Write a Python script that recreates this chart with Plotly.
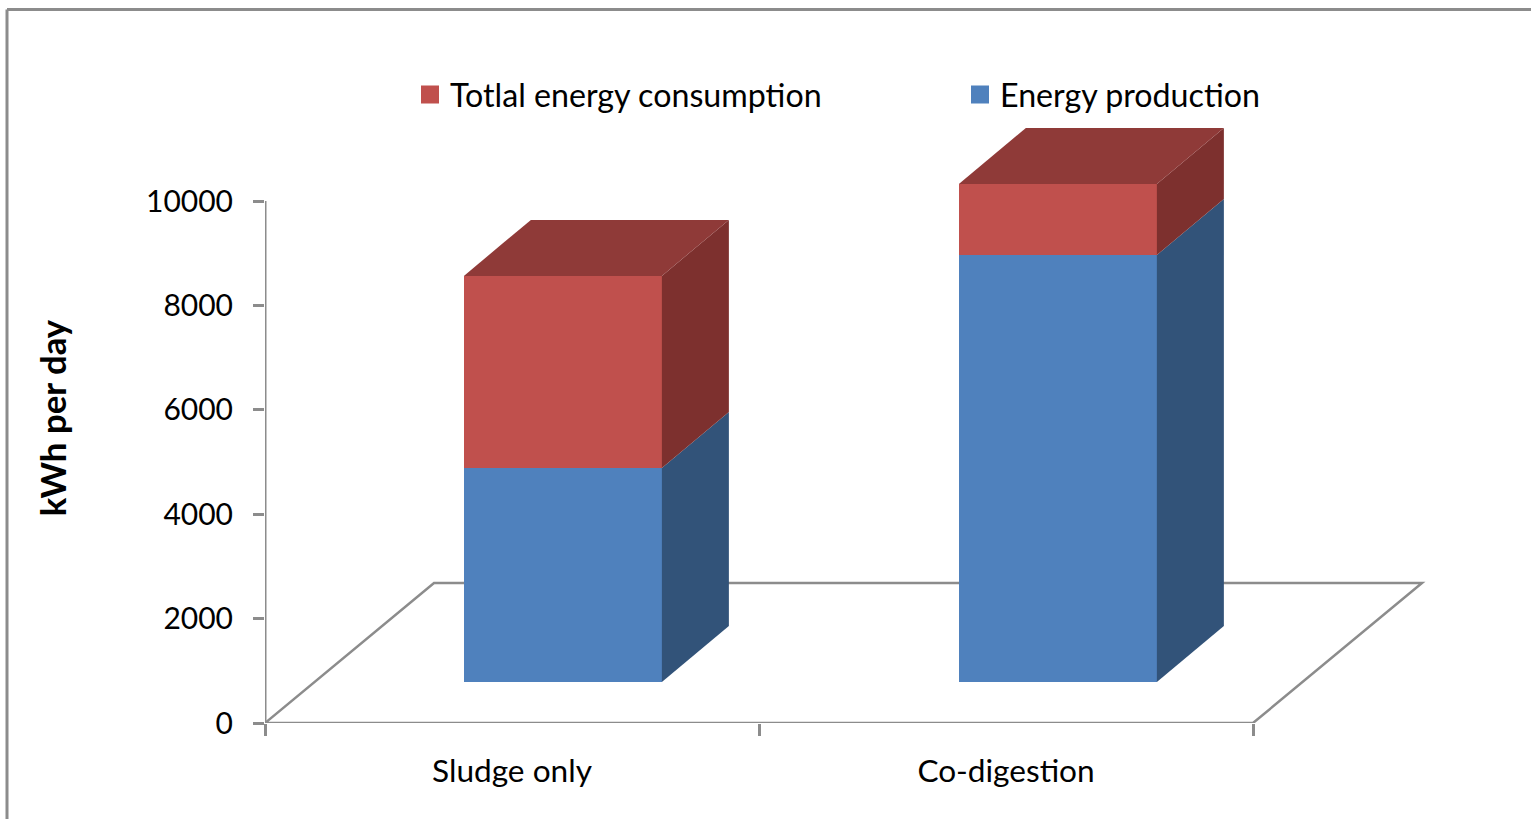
import plotly.graph_objects as go

categories = ["Sludge only", "Co-digestion"]
energy_production = [4100, 8180]
energy_consumption = [3680, 1360]
y_ticks = [0, 2000, 4000, 6000, 8000, 10000]
y_tick_labels = ["0", "2000", "4000", "6000", "8000", "10000"]

W, H = 1531, 819
L, R_AT, T, B_AT = 265, 1450, 113, 723
PX_X = 494.0
PX_Y = 52.2 / 1000
X_MAX = (R_AT - L) / PX_X
Y_MAX = (B_AT - T) / PX_Y

GREY = "#8C8C8C"
RED, RED_TOP, RED_SIDE = "#C0504D", "#8F3A38", "#7D302E"
BLUE, BLUE_SIDE = "#4F81BD", "#325379"
FONT = "Lato, Carlito, sans-serif"

# 3-D look: depth of the box and where the bars sit on the floor
DX = 67 / PX_X
DY = 56 / PX_Y
BASE = 41 / PX_Y
BAR_W = 198 / PX_X
CENTERS = [0.603, 1.605]
FLOOR_DX = 169 / PX_X
FLOOR_DY = 140 / PX_Y


def px(x):
    return (x - L) / (R_AT - L)


def py(y):
    return (B_AT - y) / (B_AT - T)


def poly(xs, ys, color):
    return go.Scatter(x=xs, y=ys, mode="lines", fill="toself", fillcolor=color,
                      line=dict(width=0, color=color), showlegend=False, hoverinfo="skip")


fig = go.Figure()

# front faces
fig.add_trace(go.Bar(x=CENTERS, y=energy_production, base=[BASE, BASE], width=BAR_W,
                     marker=dict(color=BLUE, line=dict(width=0)), showlegend=False,
                     name="Energy production"))
fig.add_trace(go.Bar(x=CENTERS, y=energy_consumption,
                     base=[BASE + p for p in energy_production], width=BAR_W,
                     marker=dict(color=RED, line=dict(width=0)), showlegend=False,
                     name="Totlal energy consumption"))

# side and top faces
for c, p, q in zip(CENTERS, energy_production, energy_consumption):
    xr = c + BAR_W / 2
    xl = c - BAR_W / 2
    y1 = BASE + p
    y2 = y1 + q
    fig.add_trace(poly([xr, xr + DX, xr + DX, xr, xr],
                       [BASE, BASE + DY, y1 + DY, y1, BASE], BLUE_SIDE))
    fig.add_trace(poly([xr, xr + DX, xr + DX, xr, xr],
                       [y1, y1 + DY, y2 + DY, y2, y1], RED_SIDE))
    fig.add_trace(poly([xl, xr, xr + DX, xl + DX, xl],
                       [y2, y2, y2 + DY, y2 + DY, y2], RED_TOP))

# legend entries
for name, color in [("Totlal energy consumption", RED), ("Energy production", BLUE)]:
    fig.add_trace(go.Scatter(x=[None], y=[None], mode="markers", name=name,
                             marker=dict(symbol="square", size=16, color=color,
                                         line=dict(width=2, color=color))))

n = len(categories)
shapes = [
    dict(type="path", layer="below", xref="x", yref="y",
         path=f"M 0 0 L {FLOOR_DX} {FLOOR_DY} L {n + FLOOR_DX} {FLOOR_DY} L {n} 0 Z",
         line=dict(color=GREY, width=2.5)),
    dict(type="line", layer="below", xref="x", yref="y", x0=0, x1=0, y0=0, y1=y_ticks[-1],
         line=dict(color=GREY, width=3)),
    dict(type="line", layer="above", xref="paper", yref="paper",
         x0=px(7), x1=px(W), y0=py(9.5), y1=py(9.5), line=dict(color=GREY, width=3)),
    dict(type="line", layer="above", xref="paper", yref="paper",
         x0=px(7), x1=px(7), y0=py(9.5), y1=py(H), line=dict(color=GREY, width=3)),
]

fig.update_layout(
    width=W, height=H,
    margin=dict(l=L, r=W - R_AT, t=T, b=H - B_AT, autoexpand=False),
    paper_bgcolor="white", plot_bgcolor="white",
    font=dict(family=FONT, color="black", size=32),
    barmode="overlay", bargap=0,
    shapes=shapes,
    showlegend=True,
    legend=dict(orientation="h", x=px(410), y=py(67), xanchor="left", yanchor="top",
                entrywidth=505, entrywidthmode="pixels", traceorder="normal",
                font=dict(family=FONT, size=32.2), bgcolor="rgba(0,0,0,0)"),
    xaxis=dict(range=[0, X_MAX], tickmode="array", tickvals=[0.5, 1.5], ticktext=categories,
               ticks="", showgrid=False, zeroline=False, showline=False, ticklabelstandoff=26,
               tickfont=dict(family=FONT, size=31.6),
               minor=dict(tickmode="array", tickvals=list(range(n + 1)), ticks="outside",
                          ticklen=12, tickwidth=2.5, tickcolor=GREY, showgrid=False)),
    yaxis=dict(range=[0, Y_MAX], tickmode="array", tickvals=y_ticks, ticktext=y_tick_labels,
               ticks="outside", ticklen=11, tickwidth=2.5, tickcolor=GREY,
               showgrid=False, zeroline=False, showline=False, ticklabelstandoff=14,
               tickfont=dict(family=FONT, size=30),
               title=dict(text="<b>kWh per day</b>", font=dict(family=FONT, size=34.8), standoff=68)),
)

fig.write_html("out.html", config={"displayModeBar": False},
               post_script="document.body.style.margin='0';")
